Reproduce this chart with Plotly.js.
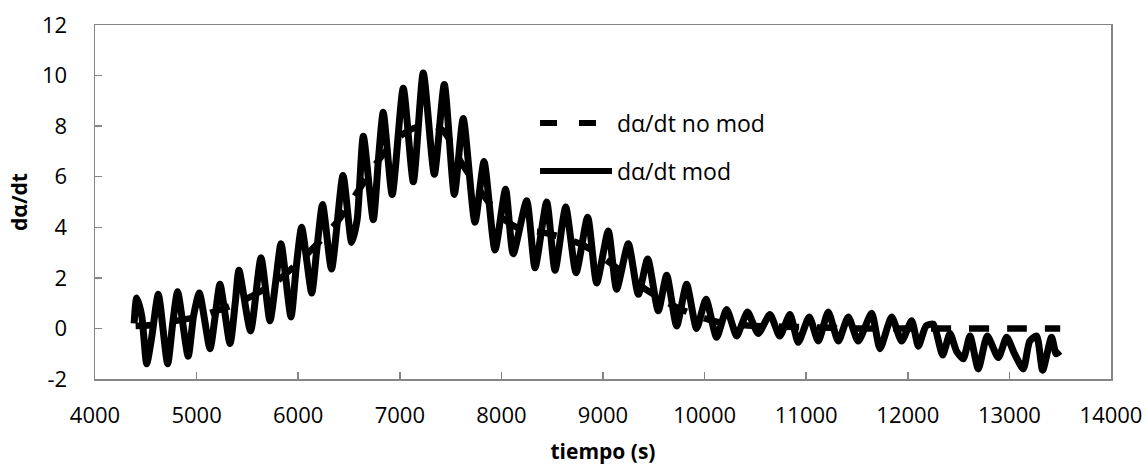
<!DOCTYPE html>
<html>
<head>
<meta charset="utf-8">
<script src="https://cdn.plot.ly/plotly-3.0.1.min.js"></script>
<style>html,body{margin:0;padding:0;background:#fff;}#chart{width:1148px;height:467px;}</style>
</head>
<body>
<div id="chart"></div>
<script>
// Series "dα/dt mod" (solid, oscillating)
var tMod = [4385, 4410, 4460, 4509, 4560, 4623, 4715, 4765, 4813, 4917, 4970, 5027, 5132, 5180, 5230, 5329, 5380, 5417, 5531, 5634, 5722, 5780, 5831, 5929, 5980, 6034, 6133, 6180, 6240, 6328, 6441, 6526, 6580, 6641, 6739, 6790, 6837, 6925, 7034, 7133, 7231, 7340, 7438, 7537, 7624, 7740, 7829, 7937, 8041, 8116, 8249, 8331, 8446, 8528, 8633, 8735, 8849, 8938, 9052, 9134, 9249, 9348, 9440, 9544, 9627, 9725, 9823, 9921, 10014, 10118, 10217, 10315, 10370, 10423, 10528, 10643, 10740, 10840, 10922, 11030, 11119, 11217, 11316, 11414, 11512, 11644, 11726, 11841, 11939, 12038, 12104, 12180, 12251, 12343, 12415, 12480, 12546, 12612, 12694, 12782, 12891, 12973, 13050, 13137, 13200, 13268, 13327, 13415, 13460, 13498];
var vMod = [0.2, 1.2, 0.5, -1.4, -0.3, 1.35, -1.4, 0.2, 1.45, -1.1, 0.5, 1.4, -0.8, 0.4, 1.75, -0.6, 1.0, 2.3, -0.1, 2.8, 0.3, 1.9, 3.35, 0.45, 2.4, 4.0, 1.4, 3.0, 4.9, 2.35, 6.05, 3.4, 4.3, 7.6, 4.3, 6.7, 8.55, 5.3, 9.5, 5.8, 10.1, 6.1, 9.65, 5.3, 8.3, 4.2, 6.6, 3.1, 5.5, 2.95, 5.05, 2.4, 5.0, 2.3, 4.8, 2.2, 4.4, 1.8, 3.85, 1.55, 3.35, 1.35, 2.75, 0.7, 2.1, 0.1, 1.75, 0.0, 1.15, -0.35, 0.75, -0.3, 0.2, 0.65, -0.2, 0.55, -0.3, 0.55, -0.55, 0.45, -0.5, 0.65, -0.5, 0.45, -0.5, 0.6, -0.8, 0.45, -0.5, 0.3, -0.7, 0.1, 0.17, -1.05, -0.2, -0.9, -1.2, -0.3, -1.6, -0.3, -1.15, -0.35, -1.0, -1.6, -0.5, -0.3, -1.65, -0.35, -1.0, -0.9];

// Series "dα/dt no mod" (dashed, smooth)
var tNoMod = [4400, 4600, 4800, 5000, 5200, 5400, 5600, 5800, 6000, 6200, 6400, 6600, 6800, 7000, 7200, 7400, 7500, 7600, 7800, 8000, 8200, 8400, 8600, 8800, 9000, 9200, 9400, 9600, 9800, 10000, 10200, 10500, 11000, 11500, 12000, 12500, 13000, 13500];
var vNoMod = [0.1, 0.15, 0.3, 0.45, 0.7, 1.0, 1.4, 1.9, 2.6, 3.4, 4.3, 5.5, 6.7, 7.6, 8.0, 7.9, 7.4, 6.6, 5.4, 4.4, 3.9, 3.8, 3.6, 3.3, 2.8, 2.2, 1.6, 1.1, 0.7, 0.4, 0.2, 0.1, 0.05, 0.0, 0.0, 0.0, 0.0, 0.0];

var xTicks = [4000, 5000, 6000, 7000, 8000, 9000, 10000, 11000, 12000, 13000, 14000];
var yTicks = [-2, 0, 2, 4, 6, 8, 10, 12];
var seriesNames = ['dα/dt no mod', 'dα/dt mod'];

var FONT = 'Open Sans, Noto Sans, sans-serif';

var traces = [
  {x: tNoMod, y: vNoMod, name: seriesNames[0], mode: 'lines', type: 'scatter',
   line: {color: '#000', width: 6.5, dash: '20px,18px', shape: 'spline', smoothing: 0.8}, showlegend: false},
  {x: tMod, y: vMod, name: seriesNames[1], mode: 'lines', type: 'scatter',
   line: {color: '#000', width: 7, shape: 'spline', smoothing: 0.6}, showlegend: false}
];

var axisLine = '#868686';
var layout = {
  width: 1148, height: 467,
  margin: {l: 95, r: 37, t: 25, b: 88},
  paper_bgcolor: '#fff', plot_bgcolor: '#fff',
  font: {family: FONT, size: 22, color: '#000'},
  showlegend: false,
  xaxis: {
    range: [4000, 14000], tickvals: xTicks, ticktext: xTicks.map(String),
    showgrid: false, zeroline: false, showline: true, linecolor: axisLine, linewidth: 1.5, mirror: true,
    ticks: 'inside', ticklen: 7, tickcolor: axisLine, tickwidth: 1.5,
    ticklabelstandoff: 16,
    tickfont: {family: FONT, size: 22, color: '#000'},
    title: {text: '<b>tiempo (s)</b>', font: {family: FONT, size: 21, color: '#000'}, standoff: 16}
  },
  yaxis: {
    range: [-2, 12], tickvals: yTicks, ticktext: yTicks.map(String),
    showgrid: false, zeroline: false, showline: true, linecolor: axisLine, linewidth: 1.5, mirror: true,
    ticks: 'inside', ticklen: 7, tickcolor: axisLine, tickwidth: 1.5,
    ticklabelstandoff: 22,
    tickfont: {family: FONT, size: 22, color: '#000'},
    title: {text: '<b>dα/dt</b>', font: {family: FONT, size: 21, color: '#000'}, standoff: 8}
  },
  shapes: [
    {type: 'line', xref: 'paper', yref: 'paper', x0: (540-95)/1016, x1: (612-95)/1016, y0: (379-123)/354, y1: (379-123)/354,
     line: {color: '#000', width: 6, dash: '17px,22px'}},
    {type: 'line', xref: 'paper', yref: 'paper', x0: (540-95)/1016, x1: (612-95)/1016, y0: (379-171)/354, y1: (379-171)/354,
     line: {color: '#000', width: 6}}
  ],
  annotations: [
    {xref: 'paper', yref: 'paper', x: (615-95)/1016, y: (379-123)/354, xanchor: 'left', yanchor: 'middle', showarrow: false,
     text: seriesNames[0], font: {family: FONT, size: 23, color: '#000'}},
    {xref: 'paper', yref: 'paper', x: (615-95)/1016, y: (379-171)/354, xanchor: 'left', yanchor: 'middle', showarrow: false,
     text: seriesNames[1], font: {family: FONT, size: 23, color: '#000'}}
  ]
};

Plotly.newPlot('chart', traces, layout, {staticPlot: true, displayModeBar: false});
</script>
</body>
</html>
